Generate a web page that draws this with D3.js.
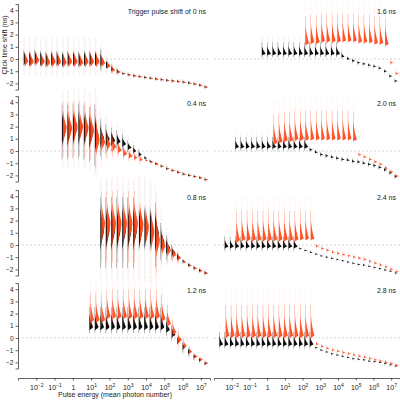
<!DOCTYPE html>
<html><head><meta charset="utf-8">
<script src="https://cdn.jsdelivr.net/npm/d3@7"></script>
<style>
body{margin:0;background:#fff}
text{font-family:"Liberation Sans",Arial,sans-serif;fill:#222}
.axis path,.axis line{stroke:#222;stroke-width:0.7}
</style></head>
<body><div id="chart"></div>
<script>
// pulse energies (log10 of mean photon number)
var energies = [-2.7,-2.4,-2.1,-1.8,-1.5,-1.2,-0.9,-0.6,-0.3,0,0.3,0.6,0.9,1.2,1.5,1.8,2.1,2.4,2.7,3.0,3.3,3.6,3.9,4.2,4.5,4.8,5.1,5.4,5.7,6.0,6.3,6.6,6.9,7.2];
var shifts = ['Trigger pulse shift of 0 ns','0.4 ns','0.8 ns','1.2 ns','1.6 ns','2.0 ns','2.4 ns','2.8 ns'];
var startIdx = [0,7,14,12,8,3,1,0];
var yTicks = [-2,-1,0,1,2,3,4];
var xTicks = [-2,-1,0,1,2,3,4,5,6,7];
var xTickExp = ['−2','−1','','1','2','3','4','5','6','7'];

// median click time shift (ns), black and red populations
var blk0 = [-0.05,-0.1,0,-0.1,-0.15,-0.1,-0.1,-0.15,-0.1,-0.1,-0.15,-0.1,-0.1,-0.1,-0.2,-0.5,-0.85,-1.05,-1.2,-1.3,-1.38,-1.45,-1.52,-1.58,-1.64,-1.7,-1.75,-1.8,-1.85,-1.9,-1.97,-2.05,-2.15,-2.3];
var red0 = [-0.15,-0.2,-0.1,-0.2,-0.25,-0.2,-0.2,-0.25,-0.2,-0.2,-0.25,-0.2,-0.2,-0.2,-0.3,-0.55,-0.9,-1.08,-1.22,-1.32,-1.4,-1.47,-1.54,-1.6,-1.66,-1.72,-1.77,-1.82,-1.87,-1.92,-2.0,-2.08,-2.18,-2.32];
var up0 = [1.2,1.2,1.2,1.2,1.2,1.2,1.2,1.2,1.2,1.2,1.2,1.2,1.2,1.2,1.0,0.6,0.4,0.3,0.15,0.15,0.15,0.15,0.15,0.15,0.15,0.15,0.15,0.15,0.15,0.15,0.15,0.15,0.15,0.15];
var dn0 = [0.9,0.9,0.9,0.9,0.9,0.9,0.9,0.9,0.9,0.9,0.9,0.9,0.9,0.9,0.7,0.5,0.3,0.2,0.1,0.1,0.1,0.1,0.1,0.1,0.1,0.1,0.1,0.1,0.1,0.1,0.1,0.1,0.1,0.1];

var blk04 = [1.8,1.8,1.9,1.9,1.8,1.6,1.3,1.1,1.0,0.9,0.8,0.6,0.3,0.0,-0.3,-0.6,-0.85,-1.05,-1.25,-1.45,-1.6,-1.75,-1.9,-2.0,-2.1,-2.2,-2.35];
var red04 = [2.0,2.0,2.1,2.1,2.0,1.8,1.0,0.8,0.6,0.4,0.1,-0.2,-0.4,-0.55,-0.7,-0.8,-0.95,-1.1,-1.28,-1.47,-1.62,-1.77,-1.92,-2.02,-2.12,-2.22,-2.37];
var up04 = [2.0,2.0,2.0,2.0,2.0,2.0,2.5,1.5,1.2,1.0,0.9,0.8,0.6,0.5,0.4,0.3,0.15,0.15,0.15,0.15,0.15,0.15,0.15,0.15,0.15,0.15,0.15];
var dn04 = [2.5,2.5,2.5,2.5,2.5,2.5,2.5,1.5,1.2,0.9,0.6,0.5,0.4,0.3,0.3,0.1,0.1,0.1,0.1,0.1,0.1,0.1,0.1,0.1,0.1,0.1,0.1];

var blk08 = [1.4,1.4,1.4,1.4,1.4,1.4,1.4,1.4,1.4,1.4,1.0,0.3,-0.2,-0.6,-1.0,-1.35,-1.65,-1.9,-2.1,-2.3];
var red08 = [1.9,1.9,1.9,1.9,1.9,1.9,1.9,1.8,1.6,1.2,0.5,0.0,-0.4,-0.75,-1.05,-1.4,-1.7,-1.92,-2.12,-2.32];
var up08 = [2.5,2.5,2.5,2.5,2.5,2.5,2.5,2.6,2.6,2.6,2.5,1.5,1.0,0.6,0.4,0.2,0.2,0.2,0.2,0.2];
var dn08 = [3.3,3.3,3.3,3.3,3.3,3.3,3.3,3.3,3.3,3.3,2.8,1.5,1.0,0.6,0.4,0.15,0.15,0.15,0.15,0.15];

var blk12 = [0.9,0.9,0.9,0.9,0.9,0.9,0.9,0.9,0.9,0.9,0.9,0.9,0.9,0.9,0.7,0.3,-0.2,-0.7,-1.1,-1.5,-1.8,-2.1];
var red12 = [1.5,1.5,1.5,1.8,1.8,1.8,1.8,1.8,1.8,1.8,1.8,1.8,1.8,1.6,1.2,0.5,-0.1,-0.6,-1.1,-1.5,-1.75,-2.05];
var upB12 = [1.6,1.6,1.6,1.6,1.6,1.6,1.6,1.6,1.6,1.6,1.6,1.6,1.6,1.6,1.0,0.8,0.5,0.4,0.3,0.2,0.2,0.2];
var upR12 = [2.2,2.2,2.2,2.2,2.2,2.2,2.2,2.2,2.2,2.2,2.2,2.2,2.2,2.0,1.5,1.0,0.6,0.5,0.4,0.3,0.2,0.2];
var dn12 = [0.5,0.5,0.5,0.5,0.5,0.5,0.5,0.5,0.5,0.5,0.5,0.5,0.5,0.5,0.5,0.5,0.6,0.5,0.4,0.3,0.2,0.15];

var blk16 = [0.45,0.45,0.45,0.45,0.45,0.45,0.45,0.45,0.45,0.45,0.45,0.45,0.45,0.45,0.45,0.2,0.0,-0.15,-0.3,-0.4,-0.5,-0.6,-0.75,-1.0,-1.4,-1.8];
var red16 = [null,null,null,null,null,null,null,null,1.3,1.4,1.4,1.5,1.5,1.5,1.5,1.5,1.5,1.5,1.4,1.4,1.4,1.3,1.3,1.2,-0.3,-1.2];
var upB16 = [0.9,0.9,0.9,0.9,0.9,0.9,0.9,0.9,0.9,0.9,0.9,0.9,0.9,0.9,0.9,0.4,0.3,0.2,0.15,0.15,0.15,0.15,0.15,0.15,0.15,0.15];
var upR16 = [null,null,null,null,null,null,null,null,2.2,2.2,2.2,2.2,2.2,2.2,2.2,2.2,2.2,2.2,2.2,2.2,2.2,2.2,2.2,2.2,0.2,0.2];
var dn16 = [0.3,0.3,0.3,0.3,0.3,0.3,0.3,0.3,0.3,0.3,0.3,0.3,0.3,0.3,0.3,0.15,0.15,0.15,0.15,0.15,0.15,0.15,0.15,0.15,0.15,0.15];

var blk20 = [0.35,0.35,0.35,0.35,0.35,0.35,0.35,0.35,0.35,0.35,0.35,0.35,0.35,0.35,0.1,-0.1,-0.3,-0.4,-0.5,-0.6,-0.7,-0.75,-0.85,-0.9,-1.0,-1.1,-1.2,-1.35,-1.55,-1.8,-2.1];
var red20 = [null,null,null,null,null,null,null,0.7,0.8,0.9,0.9,1.0,1.0,1.0,1.0,1.0,1.0,1.0,1.0,1.0,1.0,1.0,0.9,-0.3,-0.5,-0.7,-0.9,-1.1,-1.4,-1.7,-2.05];
var upB20 = [0.8,0.8,0.8,0.8,0.8,0.8,0.8,0.8,0.8,0.8,0.8,0.8,0.8,0.8,0.2,0.2,0.2,0.2,0.2,0.2,0.2,0.2,0.2,0.2,0.2,0.2,0.2,0.2,0.2,0.2,0.2];
var upR20 = [null,null,null,null,null,null,null,2.3,2.3,2.3,2.3,2.3,2.3,2.3,2.3,2.3,2.3,2.3,2.3,2.3,2.3,2.3,2.3,0.2,0.2,0.2,0.2,0.2,0.2,0.2,0.2];
var dn20 = [0.3,0.3,0.3,0.3,0.3,0.3,0.3,0.3,0.3,0.3,0.3,0.3,0.3,0.3,0.15,0.15,0.15,0.15,0.15,0.15,0.15,0.15,0.15,0.15,0.15,0.15,0.15,0.15,0.15,0.15,0.15];

var blk24 = [-0.1,-0.1,-0.1,-0.1,-0.1,-0.1,-0.1,-0.1,-0.1,-0.1,-0.1,-0.1,-0.1,-0.1,-0.3,-0.45,-0.6,-0.75,-0.9,-1.0,-1.1,-1.2,-1.3,-1.4,-1.5,-1.6,-1.65,-1.75,-1.85,-1.95,-2.05,-2.15,-2.3];
var red24 = [null,null,0.4,0.5,0.5,0.5,0.5,0.5,0.5,0.5,0.5,0.5,0.5,0.5,0.5,0.5,0.5,-0.1,-0.3,-0.45,-0.6,-0.7,-0.8,-0.9,-1.0,-1.1,-1.2,-1.35,-1.5,-1.65,-1.8,-2.0,-2.2];
var upB24 = [0.8,0.8,0.8,0.8,0.8,0.8,0.8,0.8,0.8,0.8,0.8,0.8,0.8,0.8,0.15,0.15,0.15,0.15,0.15,0.15,0.15,0.15,0.15,0.15,0.15,0.15,0.15,0.15,0.15,0.15,0.15,0.15,0.15];
var upR24 = [null,null,2.3,2.3,2.3,2.3,2.3,2.3,2.3,2.3,2.3,2.3,2.3,2.3,2.3,2.3,2.3,0.2,0.2,0.2,0.2,0.2,0.2,0.2,0.2,0.2,0.2,0.2,0.2,0.2,0.2,0.2,0.2];
var dn24 = [0.35,0.35,0.35,0.35,0.35,0.35,0.35,0.35,0.35,0.35,0.35,0.35,0.35,0.35,0.12,0.12,0.12,0.12,0.12,0.12,0.12,0.12,0.12,0.12,0.12,0.12,0.12,0.12,0.12,0.12,0.12,0.12,0.12];

var blk28 = [-0.5,-0.5,-0.5,-0.5,-0.5,-0.5,-0.5,-0.5,-0.5,-0.5,-0.5,-0.5,-0.5,-0.5,-0.5,-0.5,-0.5,-0.5,-0.8,-1.0,-1.15,-1.3,-1.4,-1.5,-1.6,-1.7,-1.75,-1.8,-1.9,-1.95,-2.0,-2.1,-2.2,-2.3];
var red28 = [null,0.2,0.2,0.2,0.2,0.2,0.2,0.2,0.2,0.2,0.2,0.2,0.2,0.2,0.2,0.2,0.2,0.2,-0.5,-0.7,-0.85,-1.0,-1.1,-1.2,-1.3,-1.4,-1.5,-1.6,-1.7,-1.8,-1.9,-2.0,-2.1,-2.25];
var upB28 = [1.0,1.0,1.0,1.0,1.0,1.0,1.0,1.0,1.0,1.0,1.0,1.0,1.0,1.0,1.0,1.0,1.0,1.0,0.15,0.15,0.15,0.15,0.15,0.15,0.15,0.15,0.15,0.15,0.15,0.15,0.15,0.15,0.15,0.15];
var upR28 = [null,2.5,2.5,2.5,2.5,2.5,2.5,2.5,2.5,2.5,2.5,2.5,2.5,2.5,2.5,2.5,2.5,2.5,0.2,0.2,0.2,0.2,0.2,0.2,0.2,0.2,0.2,0.2,0.2,0.2,0.2,0.2,0.2,0.2];
var dn28 = [0.35,0.35,0.35,0.35,0.35,0.35,0.35,0.35,0.35,0.35,0.35,0.35,0.35,0.35,0.35,0.35,0.35,0.35,0.12,0.12,0.12,0.12,0.12,0.12,0.12,0.12,0.12,0.12,0.12,0.12,0.12,0.12,0.12,0.12];

var panelBlk = [blk0,blk04,blk08,blk12,blk16,blk20,blk24,blk28];
var panelRed = [red0,red04,red08,red12,red16,red20,red24,red28];
var panelUpB = [up0,up04,up08,upB12,upB16,upB20,upB24,upB28];
var panelUpR = [up0,up04,up08,upR12,upR16,upR20,upR24,upR28];
var panelDn = [dn0,dn04,dn08,dn12,dn16,dn20,dn24,dn28];

var W = 400, H = 400;
var svg = d3.select('#chart').append('svg').attr('width', W).attr('height', H);
var colX = [[18, 210], [214, 400]];
var rowZero = [59, 151, 245, 338];
var unit = 12.2;

// 半邊小提琴
function violin(g, x, y, e, m, u, d, color, dx) {
  var n = 40, pts = [];
  var wMax = u > 0.5 ? 3.8 : 3.0;
  for (var k = 0; k <= n; k++) {
    var t = -d + (u + d) * k / n;
    var w = t < 0 ? Math.exp(-Math.pow(t / (d * 0.35), 2)) : Math.pow(1 - t / u, 2.4);
    pts.push({v: m + t, w: Math.max(w * wMax, 0.25)});
  }
  var area = d3.area()
    .y(p => y(p.v))
    .x0(x(e) + dx)
    .x1(p => x(e) + dx + p.w)
    .curve(d3.curveBasis);
  g.append('path').attr('d', area(pts)).attr('fill', color).attr('opacity', 0.95);
}

shifts.forEach(function(label, p) {
  var col = p < 4 ? 0 : 1, row = p % 4;
  var x = d3.scaleLinear().domain([-3, 7.5]).range(colX[col]);
  var y = d3.scaleLinear().domain([-2.5, 4.5]).range([rowZero[row] + 2.5 * unit, rowZero[row] - 4.5 * unit]);
  var g = svg.append('g');

  g.append('line')
    .attr('x1', colX[col][0]).attr('x2', colX[col][1])
    .attr('y1', y(0)).attr('y2', y(0))
    .attr('stroke', '#bbb').attr('stroke-width', 0.6).attr('stroke-dasharray', '2,2');

  if (col == 0) {
    g.append('g').attr('class', 'axis')
      .attr('transform', `translate(${colX[0][0]},0)`)
      .call(d3.axisLeft(y).tickValues(yTicks).tickSize(2.5).tickPadding(2).tickFormat(d => d < 0 ? '\u2212' + (-d) : d))
      .call(a => a.selectAll('text').style('font-size', '6.5px'));
  }
  if (row == 3) {
    var ax = g.append('g').attr('class', 'axis')
      .attr('transform', `translate(0,378)`)
      .call(d3.axisBottom(x).tickValues(xTicks).tickSize(2.5).tickPadding(3).tickFormat(''));
    ax.selectAll('.tick').append('text')
      .attr('y', 12).attr('text-anchor', 'middle').style('font-size', '7px')
      .each(function(d, i) {
        var t = d3.select(this);
        if (xTickExp[i] == '') { t.text('1'); return; }
        t.append('tspan').text('10');
        t.append('tspan').attr('dy', -3).style('font-size', '5px').text(xTickExp[i]);
      });
  }

  var s = startIdx[p];
  var blk = panelBlk[p], red = panelRed[p];
  blk.forEach(function(m, i) {
    if (m == null) return;
    var e = energies[s + i], u = panelUpB[p][i], d = panelDn[p][i];
    g.append('line').attr('x1', x(e) + 0.4).attr('x2', x(e) + 0.4)
      .attr('y1', y(m - d * 1.3)).attr('y2', y(m + u * 1.6))
      .attr('stroke', '#000').attr('stroke-width', 0.5).attr('opacity', 0.35).attr('stroke-dasharray', '0.5,1.3');
    violin(g, x, y, e, m, u, d, '#000', 0);
  });
  red.forEach(function(m, i) {
    if (m == null) return;
    var e = energies[s + i], u = panelUpR[p][i], d = panelDn[p][i];
    g.append('line').attr('x1', x(e) + 1.4).attr('x2', x(e) + 1.4)
      .attr('y1', y(m - d * 1.3)).attr('y2', y(m + u * 1.5))
      .attr('stroke', '#ff4a1c').attr('stroke-width', 0.5).attr('opacity', 0.4).attr('stroke-dasharray', '0.5,1.3');
    violin(g, x, y, e, m, u, d, '#ff4a1c', 1);
  });

  g.append('text')
    .attr('x', colX[col][1] - 4).attr('y', y(4.5) + 10)
    .attr('text-anchor', 'end').style('font-size', '7px').text(label);
});

svg.append('text')
  .attr('transform', 'translate(7,45) rotate(-90)')
  .attr('text-anchor', 'middle').style('font-size', '7px')
  .text('Click time shift (ns)');
svg.append('text')
  .attr('x', 115).attr('y', 397)
  .attr('text-anchor', 'middle').style('font-size', '7px')
  .text('Pulse energy (mean photon number)');
</script>
</body></html>
